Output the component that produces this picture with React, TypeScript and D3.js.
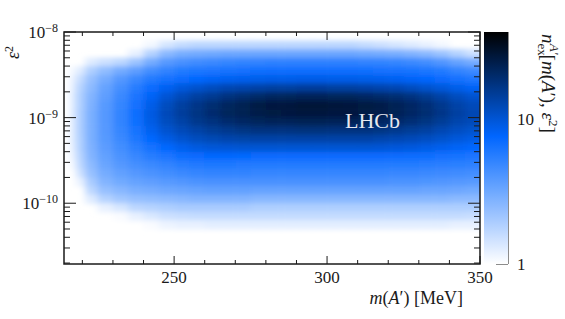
import React, { useRef, useEffect } from "react";
import * as d3 from "d3";

// bin edges of the histogram, m(A') in MeV
const massEdges = [214, 216, 218, 221, 225, 230, 235, 240, 245, 250, 255, 260, 265, 270, 275, 280, 285, 290, 295, 300, 305, 310, 315, 320, 325, 330, 335, 340, 345, 350];
// bin edges in log10(eps^2), top to bottom
const logEps2Edges = [-8.0, -8.1, -8.2, -8.3, -8.4, -8.5, -8.6, -8.7, -8.8, -8.9, -9.0, -9.1, -9.2, -9.3, -9.4, -9.5, -9.6, -9.7, -9.8, -9.9, -10.0, -10.1, -10.2, -10.3];

// expected number of A' candidates, one array per mass bin (eps^2 from top to bottom)
const nExpected = [
  [0, 0, 0, 0, 0, 0, 0, 0, 0, 0, 0, 0, 0, 0, 0, 0, 0, 0, 0, 0, 0, 0, 0],
  [0, 0, 0, 0, 1.1, 1.2, 1.25, 1.3, 1.3, 1.3, 1.3, 1.3, 1.3, 1.25, 1.2, 1.1, 0, 0, 0, 0, 0, 0, 0],
  [0, 0, 0, 0, 1.3, 1.6, 1.8, 1.9, 1.9, 1.95, 1.95, 1.95, 1.9, 1.9, 1.8, 1.7, 1.5, 1.2, 0, 0, 0, 0, 0],
  [0, 0, 0, 1.3, 1.9, 2.3, 2.5, 2.7, 2.8, 2.9, 2.9, 2.9, 2.9, 2.8, 2.7, 2.5, 2.3, 2.0, 1.7, 1.3, 0, 0, 0],
  [0, 0, 0, 1.5, 2.4, 3.0, 3.4, 3.6, 3.8, 3.9, 3.9, 3.9, 3.8, 3.7, 3.5, 3.3, 3.0, 2.7, 2.3, 1.8, 1.2, 0, 0],
  [0, 0, 0, 1.7, 3.0, 3.9, 4.4, 4.8, 5.0, 5.1, 5.1, 5.0, 4.8, 4.5, 4.2, 3.9, 3.5, 3.1, 2.6, 2.1, 1.4, 1.05, 0],
  [0, 0, 1.2, 2.2, 3.6, 4.8, 5.6, 6.2, 6.6, 6.8, 6.7, 6.4, 6.0, 5.4, 4.9, 4.4, 3.9, 3.4, 2.9, 2.3, 1.7, 1.2, 0],
  [0, 1.1, 1.8, 3.0, 4.5, 5.8, 7.0, 8.0, 8.8, 9.2, 9.0, 8.4, 7.5, 6.5, 5.6, 4.8, 4.2, 3.6, 3.0, 2.4, 1.8, 1.35, 1.05],
  [0, 1.4, 2.5, 3.8, 5.2, 6.5, 8.2, 10, 11.5, 12, 11.5, 10.3, 9.0, 7.5, 6.2, 5.2, 4.5, 3.8, 3.2, 2.5, 1.9, 1.5, 1.15],
  [0, 1.6, 2.9, 4.3, 5.7, 7.0, 9.5, 12, 14, 14.5, 13.5, 12, 10.3, 8.5, 6.8, 5.6, 4.8, 4.0, 3.3, 2.6, 2.0, 1.55, 1.2],
  [0, 1.7, 3.0, 4.6, 6.0, 7.5, 10.5, 14, 16.5, 17, 16, 13.5, 11.5, 9.3, 7.2, 5.9, 5.0, 4.2, 3.4, 2.7, 2.0, 1.6, 1.2],
  [0, 1.7, 3.1, 4.8, 6.2, 8.0, 11.5, 15.5, 19, 19.5, 17.5, 15, 12.3, 9.8, 7.4, 6.0, 5.1, 4.3, 3.5, 2.7, 2.0, 1.6, 1.25],
  [0, 1.7, 3.2, 5.0, 6.4, 8.3, 12.5, 17.5, 21.5, 22, 19.5, 16, 13, 10, 7.4, 6.0, 5.1, 4.3, 3.5, 2.7, 2.0, 1.6, 1.25],
  [0, 1.7, 3.2, 5.1, 6.6, 8.5, 13, 19, 23.5, 23.5, 21, 17, 13.3, 10.2, 7.3, 5.9, 5.1, 4.3, 3.5, 2.7, 2.0, 1.6, 1.25],
  [0, 1.7, 3.2, 5.2, 6.7, 8.7, 13.5, 20.5, 25.5, 25, 22, 17.5, 13.5, 10.2, 7.2, 5.8, 5.0, 4.3, 3.4, 2.6, 1.9, 1.6, 1.25],
  [0, 1.7, 3.2, 5.3, 6.8, 8.8, 14, 21.5, 26.5, 26, 22.5, 17.5, 13.5, 10.2, 7.2, 5.8, 5.0, 4.3, 3.4, 2.6, 1.9, 1.6, 1.25],
  [0, 1.7, 3.2, 5.3, 6.8, 8.8, 14, 22, 27, 26.5, 22.5, 17.5, 13.5, 10.2, 7.2, 5.8, 5.0, 4.3, 3.4, 2.6, 1.9, 1.6, 1.25],
  [0, 1.7, 3.2, 5.3, 6.8, 8.9, 14.5, 22.5, 28, 27, 23, 18, 13.5, 10.2, 7.2, 5.8, 5.0, 4.3, 3.4, 2.6, 1.9, 1.6, 1.25],
  [0, 1.7, 3.2, 5.3, 6.8, 8.9, 14.5, 22.5, 28, 27, 23, 18, 13.5, 10.2, 7.2, 5.8, 5.0, 4.3, 3.4, 2.6, 1.9, 1.6, 1.25],
  [0, 1.7, 3.2, 5.3, 6.8, 8.8, 14, 22, 27.5, 26.5, 22.5, 17.5, 13.5, 10.2, 7.2, 5.8, 5.0, 4.3, 3.4, 2.6, 1.9, 1.6, 1.25],
  [0, 1.7, 3.2, 5.3, 6.8, 8.8, 14, 22, 27, 26.5, 22.5, 17.5, 13.5, 10.2, 7.2, 5.8, 5.0, 4.3, 3.4, 2.6, 1.9, 1.6, 1.25],
  [0, 1.6, 3.1, 5.2, 6.7, 8.7, 13.5, 21, 26, 25.5, 22, 17.5, 13.5, 10.2, 7.2, 5.8, 5.0, 4.3, 3.4, 2.6, 1.9, 1.6, 1.25],
  [0, 1.5, 3.0, 5.1, 6.6, 8.5, 13, 20, 25, 24.5, 21, 17, 13, 10, 7.1, 5.8, 5.0, 4.3, 3.4, 2.6, 1.9, 1.6, 1.25],
  [0, 1.4, 2.9, 5.0, 6.5, 8.2, 12.5, 19, 23, 23, 20, 16, 12.5, 9.7, 7.0, 5.7, 4.9, 4.2, 3.4, 2.6, 1.9, 1.6, 1.25],
  [0, 1.3, 2.7, 4.8, 6.3, 7.9, 11.5, 17.5, 21, 21, 18.5, 15, 12, 9.4, 6.9, 5.7, 4.9, 4.2, 3.4, 2.6, 1.9, 1.6, 1.25],
  [0, 1.2, 2.5, 4.5, 6.1, 7.6, 10.5, 15.5, 18.5, 19, 17, 14, 11.3, 9.0, 6.8, 5.6, 4.8, 4.1, 3.3, 2.6, 1.9, 1.6, 1.25],
  [0, 1.1, 2.2, 4.0, 5.7, 7.2, 9.6, 13.5, 16, 16.5, 15, 12.5, 10.5, 8.5, 6.6, 5.5, 4.7, 4.0, 3.3, 2.6, 1.9, 1.6, 1.25],
  [0, 0, 1.8, 3.4, 5.1, 6.6, 8.7, 11.5, 13.5, 14, 13, 11.3, 9.6, 8.0, 6.4, 5.4, 4.6, 3.9, 3.2, 2.5, 1.9, 1.6, 1.2],
  [0, 0, 1.5, 3.0, 4.7, 6.1, 8.0, 10.3, 12, 12.5, 12, 10.5, 9.0, 7.6, 6.2, 5.3, 4.5, 3.8, 3.1, 2.5, 1.9, 1.55, 1.2],
];

const massTicks = [250, 300, 350];
const massMinorTicks = [220, 230, 240, 260, 270, 280, 290, 310, 320, 330, 340];
const eps2Decades = [-8, -9, -10];
const zTicks = [1, 10];
const zMinorTicks = [2, 3, 4, 5, 6, 7, 8, 9, 20, 30];
const zRange = [1, 40];

const W = 565, H = 319;
const FONT = "'Liberation Serif', 'DejaVu Serif', serif";
const INK = "#1a1a1a";

const App = () => {
  const ref = useRef<SVGSVGElement>(null);

  useEffect(() => {
    const svg = d3.select(ref.current);
    svg.selectAll("*").remove();

    const left = 64, right = 480, top = 32, bottom = 264;
    const barL = 484, barR = 508;

    const x = d3.scaleLinear().domain([214, 350]).range([left, right]);
    const y = d3.scaleLog().domain([1.95e-11, 1e-8]).range([bottom, top]);
    const z = d3.scaleLog().domain(zRange).range([bottom, top]);
    // white -> blue -> black palette, blue a bit above the middle of the log range
    const color = d3.scaleLog<string>()
      .domain([zRange[0], zRange[0] * (zRange[1] / zRange[0]) ** 0.55, zRange[1]])
      .range(["#ffffff", "#0066ff", "#000000"])
      .clamp(true);

    const defs = svg.append("defs");
    defs.append("clipPath").attr("id", "plotClip")
      .append("rect").attr("x", left).attr("y", top)
      .attr("width", right - left).attr("height", bottom - top);
    defs.append("filter").attr("id", "smooth")
      .attr("filterUnits", "userSpaceOnUse")
      .attr("x", 0).attr("y", 0).attr("width", W).attr("height", H)
      .append("feGaussianBlur").attr("stdDeviation", "3.5 2.5");

    // heat map cells
    const cells: { i: number; j: number; v: number }[] = [];
    nExpected.forEach((col, i) => col.forEach((v, j) => {
      if (v >= zRange[0]) cells.push({ i, j, v });
    }));
    const last = massEdges.length - 2;
    svg.append("g").attr("clip-path", "url(#plotClip)")
      .append("g").attr("filter", "url(#smooth)")
      .selectAll("rect").data(cells).join("rect")
      .attr("x", d => x(massEdges[d.i]))
      .attr("y", d => y(10 ** logEps2Edges[d.j]))
      .attr("width", d => x(massEdges[d.i + 1]) - x(massEdges[d.i]) + (d.i === last ? 20 : 0.6))
      .attr("height", d => y(10 ** logEps2Edges[d.j + 1]) - y(10 ** logEps2Edges[d.j]) + 0.6)
      .attr("fill", d => color(d.v));

    svg.append("text")
      .attr("x", 345).attr("y", 128)
      .attr("font-family", FONT).attr("font-size", 22)
      .attr("fill", "#e6e8f0")
      .text("LHCb");

    // frame and ticks
    svg.append("rect")
      .attr("x", left).attr("y", top).attr("width", right - left).attr("height", bottom - top)
      .attr("fill", "none").attr("stroke", INK).attr("stroke-width", 1.5);

    const ticks = svg.append("g").attr("stroke", INK).attr("stroke-width", 1);
    const xTick = (m: number, len: number) => {
      ticks.append("line").attr("x1", x(m)).attr("x2", x(m)).attr("y1", bottom).attr("y2", bottom - len);
      ticks.append("line").attr("x1", x(m)).attr("x2", x(m)).attr("y1", top).attr("y2", top + len);
    };
    massTicks.forEach(m => xTick(m, 8));
    massMinorTicks.forEach(m => xTick(m, 4));

    const yTick = (v: number, len: number) => {
      ticks.append("line").attr("x1", left).attr("x2", left + len).attr("y1", y(v)).attr("y2", y(v));
      ticks.append("line").attr("x1", right).attr("x2", right - len).attr("y1", y(v)).attr("y2", y(v));
    };
    eps2Decades.forEach(e => yTick(10 ** e, 12));
    [-11, -10, -9].forEach(e => d3.range(2, 10).forEach(k => {
      const v = k * 10 ** e;
      if (v > y.domain()[0] && v < y.domain()[1]) yTick(v, 6);
    }));

    const labels = svg.append("g").attr("font-family", FONT).attr("font-size", 17).attr("fill", INK);
    massTicks.forEach(m => {
      labels.append("text").attr("x", x(m)).attr("y", 283).attr("text-anchor", "middle").text(m);
    });
    eps2Decades.forEach(e => {
      const t = labels.append("text").attr("x", 58).attr("y", y(10 ** e) + 6).attr("text-anchor", "end");
      t.append("tspan").text("10");
      t.append("tspan").attr("dy", -6).attr("font-size", 12).text("\u2212" + Math.abs(e));
    });

    // color bar
    const grad = defs.append("linearGradient").attr("id", "zGrad")
      .attr("x1", 0).attr("x2", 0).attr("y1", 1).attr("y2", 0);
    d3.range(0, 41).forEach(k => {
      const v = zRange[0] * (zRange[1] / zRange[0]) ** (k / 40);
      grad.append("stop").attr("offset", k / 40).attr("stop-color", color(v));
    });
    svg.append("rect").attr("x", barL).attr("y", top)
      .attr("width", barR - barL).attr("height", bottom - top)
      .attr("fill", "url(#zGrad)");
    ticks.append("line").attr("x1", barR).attr("x2", barR).attr("y1", top).attr("y2", bottom);
    zTicks.forEach(v => {
      ticks.append("line").attr("x1", barR).attr("x2", barR - 12).attr("y1", z(v)).attr("y2", z(v));
      labels.append("text").attr("x", 517).attr("y", z(v) + 6).text(v);
    });
    zMinorTicks.forEach(v => {
      ticks.append("line").attr("x1", barR).attr("x2", barR - 6).attr("y1", z(v)).attr("y2", z(v));
    });

    // axis titles
    const xt = labels.append("text").attr("x", 463).attr("y", 304)
      .attr("text-anchor", "end").attr("font-size", 18);
    xt.append("tspan").attr("font-style", "italic").text("m");
    xt.append("tspan").text("(");
    xt.append("tspan").attr("font-style", "italic").text("A");
    xt.append("tspan").text("\u2032) [MeV]");

    const yt = labels.append("text").attr("transform", "translate(19,46) rotate(-90)")
      .attr("text-anchor", "end").attr("font-size", 18);
    yt.append("tspan").attr("font-style", "italic").text("\u03b5");
    yt.append("tspan").attr("dy", -6).attr("font-size", 12).text("2");

    const zt = labels.append("text").attr("transform", "translate(542,34) rotate(90)")
      .attr("font-size", 19);
    zt.append("tspan").attr("font-style", "italic").text("n");
    zt.append("tspan").attr("font-size", 13).attr("dy", 4).text("ex");
    zt.append("tspan").attr("font-size", 13).attr("font-style", "italic")
      .attr("dx", -12).attr("dy", -12).text("A\u2032");
    zt.append("tspan").attr("dy", 8).text("[");
    zt.append("tspan").attr("font-style", "italic").text("m");
    zt.append("tspan").text("(");
    zt.append("tspan").attr("font-style", "italic").text("A");
    zt.append("tspan").text("\u2032), ");
    zt.append("tspan").attr("font-style", "italic").text("\u03b5");
    zt.append("tspan").attr("dy", -7).attr("font-size", 13).text("2");
    zt.append("tspan").attr("dy", 7).text("]");
  }, []);

  return (
    <svg ref={ref} width={W} height={H}
      style={{ position: "absolute", left: 0, top: 0, background: "#fff" }} />
  );
};

export default App;
